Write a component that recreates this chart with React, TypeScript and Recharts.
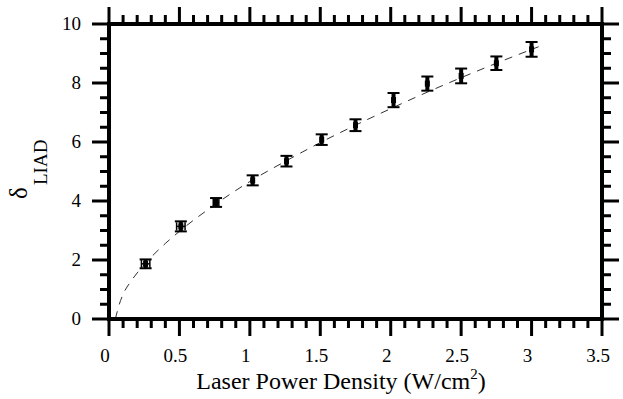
import React from 'react';
import {
  ComposedChart,
  Scatter,
  Line,
  XAxis,
  YAxis,
  ErrorBar,
} from 'recharts';

// measured points
const powerDensity = [0.26, 0.51, 0.76, 1.02, 1.26, 1.51, 1.75, 2.02, 2.26, 2.5, 2.75, 3.0];
const deltaLiad = [1.87, 3.14, 3.95, 4.7, 5.35, 6.08, 6.57, 7.42, 7.98, 8.24, 8.67, 9.14];
const deltaErr = [0.15, 0.17, 0.15, 0.17, 0.18, 0.18, 0.2, 0.24, 0.24, 0.25, 0.23, 0.25];
const powerErr = [0.03, 0.03, 0.02, 0, 0, 0, 0, 0, 0, 0, 0, 0];

// dashed fit curve
const fitX = [0.045, 0.07, 0.1, 0.15, 0.2, 0.3, 0.4, 0.5, 0.75, 1, 1.25, 1.5, 1.75, 2, 2.25, 2.5, 2.75, 3.05];
const fitY = [0, 0.45, 0.84, 1.24, 1.56, 2.1, 2.56, 2.97, 3.87, 4.66, 5.34, 5.98, 6.57, 7.13, 7.67, 8.18, 8.67, 9.23];

const xTicks = [
  0, 0.1, 0.2, 0.3, 0.4, 0.5, 0.6, 0.7, 0.8, 0.9, 1, 1.1, 1.2, 1.3, 1.4, 1.5, 1.6, 1.7,
  1.8, 1.9, 2, 2.1, 2.2, 2.3, 2.4, 2.5, 2.6, 2.7, 2.8, 2.9, 3, 3.1, 3.2, 3.3, 3.4, 3.5,
];
const xLabels = ['0', '0.5', '1', '1.5', '2', '2.5', '3', '3.5'];
const yTicks = [
  0, 0.5, 1, 1.5, 2, 2.5, 3, 3.5, 4, 4.5, 5, 5.5, 6, 6.5, 7, 7.5, 8, 8.5, 9, 9.5, 10,
];
const yLabels = ['0', '2', '4', '6', '8', '10'];

const points = powerDensity.map((x, i) => ({
  x,
  y: deltaLiad[i],
  yErr: deltaErr[i],
  xErr: powerErr[i],
}));
const xErrPoints = points.filter((p) => p.xErr > 0);
const fitData = fitX.map((x, i) => ({ x, y: fitY[i] }));

const SERIF = '"Liberation Serif", "Times New Roman", serif';

const XTick = (props: any) => {
  const { x, y, payload, side } = props;
  const v = payload.value;
  const label = xLabels.find((l) => Math.abs(parseFloat(l) - v) < 1e-6);
  const len = label ? 17 : 9;
  const dir = side === 'top' ? -1 : 1;
  return (
    <g>
      <line x1={x} y1={y} x2={x} y2={y + dir * len} stroke='#000' strokeWidth={3} />
      {label && side !== 'top' && (
        <text x={x - 4} y={y + 43} textAnchor='middle' fontSize={19} fontFamily={SERIF} fill='#000'>
          {label}
        </text>
      )}
    </g>
  );
};

const YTick = (props: any) => {
  const { x, y, payload, side } = props;
  const v = payload.value;
  const label = yLabels.find((l) => Math.abs(parseFloat(l) - v) < 1e-6);
  const len = label ? 17 : 9;
  const dir = side === 'right' ? 1 : -1;
  return (
    <g>
      <line x1={x} y1={y} x2={x + dir * len} y2={y} stroke='#000' strokeWidth={3} />
      {label && side !== 'right' && (
        <text x={81} y={y + 6} textAnchor='end' fontSize={19} fontFamily={SERIF} fill='#000'>
          {label}
        </text>
      )}
    </g>
  );
};

const XLabel = () => (
  <text x={341} y={389} textAnchor='middle' fontSize={24} fontFamily={SERIF} fill='#000'>
    Laser Power Density (W/cm
    <tspan dy={-10} fontSize={15}>2</tspan>
    <tspan dy={10}>)</tspan>
  </text>
);

const YLabel = () => (
  <g fill='#000'>
    <text transform='translate(27,199) rotate(-90)' fontSize={25} fontFamily={SERIF}>
      δ
    </text>
    <text transform='translate(47,185) rotate(-90)' fontSize={19} fontFamily={SERIF}>
      LIAD
    </text>
  </g>
);

const Marker = (props: any) => {
  const { cx, cy } = props;
  return <rect x={cx - 2.5} y={cy - 3} width={5} height={6} fill='#000' />;
};

const Nothing = () => <g />;

const axisLine = { stroke: '#000', strokeWidth: 4, strokeLinecap: 'square' as const };

export default function App() {
  return (
    <div style={{ position: 'absolute', left: 0, top: 0, background: '#fff' }}>
      <ComposedChart
        width={623}
        height={399}
        margin={{ top: 23, right: 20, bottom: 20, left: 29 }}
      >
        <XAxis
          xAxisId='b'
          dataKey='x'
          type='number'
          domain={[0, 3.5]}
          allowDataOverflow
          ticks={xTicks}
          interval={0}
          tickSize={0}
          tickMargin={0}
          tickLine={false}
          axisLine={axisLine}
          tick={<XTick side='bottom' />}
          height={60}
          label={<XLabel />}
        />
        <XAxis
          xAxisId='t'
          orientation='top'
          dataKey='x'
          type='number'
          domain={[0, 3.5]}
          allowDataOverflow
          ticks={xTicks}
          interval={0}
          tickSize={0}
          tickMargin={0}
          tickLine={false}
          axisLine={axisLine}
          tick={<XTick side='top' />}
          height={1}
        />
        <YAxis
          yAxisId='l'
          type='number'
          domain={[0, 10]}
          allowDataOverflow
          ticks={yTicks}
          interval={0}
          tickSize={0}
          tickMargin={0}
          tickLine={false}
          axisLine={axisLine}
          tick={<YTick side='left' />}
          width={80}
          label={<YLabel />}
        />
        <YAxis
          yAxisId='r'
          orientation='right'
          type='number'
          domain={[0, 10]}
          allowDataOverflow
          ticks={yTicks}
          interval={0}
          tickSize={0}
          tickMargin={0}
          tickLine={false}
          axisLine={axisLine}
          tick={<YTick side='right' />}
          width={1}
        />
        <Line
          xAxisId='b'
          yAxisId='l'
          data={fitData}
          dataKey='y'
          type='monotone'
          stroke='#333'
          strokeWidth={1}
          strokeDasharray='8 7'
          dot={false}
          activeDot={false}
          isAnimationActive={false}
        />
        <Scatter
          xAxisId='b'
          yAxisId='l'
          data={points}
          dataKey='y'
          shape={<Marker />}
          isAnimationActive={false}
        >
          <ErrorBar dataKey='yErr' direction='y' width={6} strokeWidth={2} stroke='#000' isAnimationActive={false} />
          <ErrorBar dataKey='yErr' direction='y' width={0} strokeWidth={4} stroke='#000' isAnimationActive={false} />
        </Scatter>
        <Scatter
          xAxisId='b'
          yAxisId='l'
          data={xErrPoints}
          dataKey='y'
          shape={<Nothing />}
          isAnimationActive={false}
        >
          <ErrorBar dataKey='xErr' direction='x' width={4} strokeWidth={1.5} stroke='#000' isAnimationActive={false} />
        </Scatter>
      </ComposedChart>
    </div>
  );
}
